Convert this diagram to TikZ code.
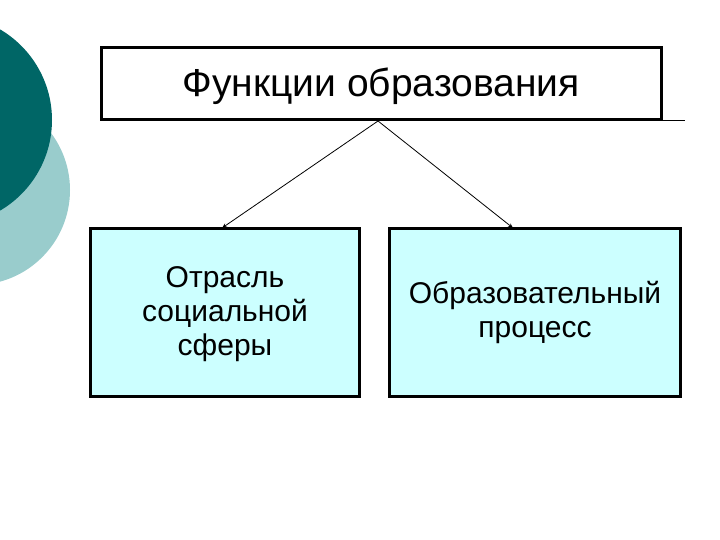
\documentclass[tikz,border=0pt]{standalone}
\usepackage{fontspec}
\setmainfont{Liberation Sans}
\definecolor{dteal}{HTML}{006666}
\definecolor{lteal}{HTML}{99CCCC}
\definecolor{lcyan}{HTML}{CCFFFF}
\tikzset{box/.style={draw=black,line width=3pt,align=center,inner sep=0pt},
 arr/.style={-{Stealth[length=5pt,width=4pt]},line width=0.8pt}}
\usetikzlibrary{arrows.meta}
\begin{document}
\begin{tikzpicture}[x=1pt,y=-1pt]
\useasboundingbox (0,0) rectangle (720,540);
\fill[lteal] (-25,190) circle (95);
\fill[dteal] (-53,120) circle (105);
\node[box,fill=white,minimum width=560,minimum height=72] (top) at (381,84) {};
\node[font=\fontsize{39}{44}\selectfont] (tt) at (381,86) {Функции образования};
\draw[line width=1pt] (662,121) -- (685,121);
\node[box,fill=lcyan,minimum width=269,minimum height=168] (l) at (225,312.5) {};
\node[align=center,font=\fontsize{30}{34}\selectfont] (lt) at (225,314) {Отрасль\\социальной\\сферы};
\node[box,fill=lcyan,minimum width=291,minimum height=168] (r) at (535,312.5) {};
\node[align=center,font=\fontsize{30}{34}\selectfont] (rt) at (535,312) {Образовательный\\процесс};
\coordinate (o) at (378,121);
\draw[arr] (o) -- (222,228);
\draw[arr] (o) -- (513,228);
\end{tikzpicture}
\end{document}
